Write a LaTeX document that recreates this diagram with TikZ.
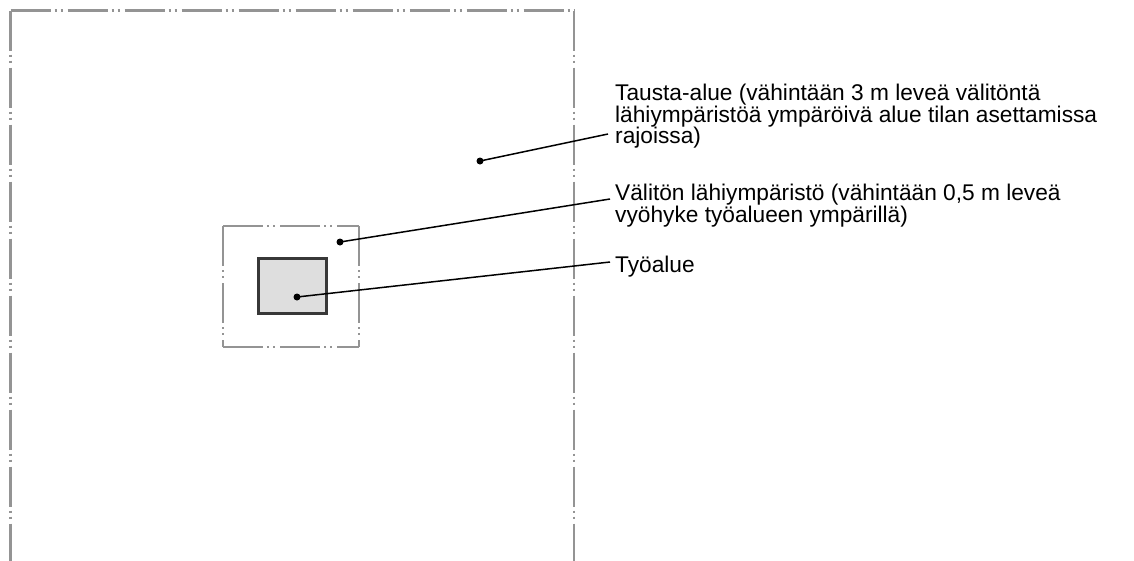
\documentclass[tikz,border=0pt]{standalone}
\usepackage{fontspec}
\setmainfont{Liberation Sans}
\begin{document}
\begin{tikzpicture}[x=1pt,y=-1pt,
  zone/.style={draw=black!42,line width=2.2pt,
    dash pattern=on 40pt off 4pt on 2pt off 4pt on 2pt off 5pt},
  leader/.style={line width=1.5pt},
  lbl/.style={anchor=north west,inner sep=0pt,align=left,
    font=\fontsize{22.7}{21.6}\selectfont}]
\useasboundingbox (0,0) rectangle (1134,560);
% tausta-alue (alareuna jatkuu kuvan alle)
\foreach \a/\b in {{10.5,10.5}/{574,10.5},{10.5,10.5}/{10.5,562},{574,10.5}/{574,562}}
  \draw[zone] (\a)--(\b);
% valiton lahiymparisto
\foreach \a/\b in {{223,226}/{359,226},{223,226}/{223,347},{359,226}/{359,347},{223,347}/{359,347}}
  \draw[zone] (\a)--(\b);
% tyoalue
\draw[line width=3pt,draw=black!78,fill=black!13] (258,258) rectangle (326,313);
% selitteet
\node[lbl] (tausta) at (615,84) {Tausta-alue (vähintään 3 m leveä välitöntä\\
  lähiympäristöä ympäröivä alue tilan asettamissa\\rajoissa)};
\node[lbl] (valiton) at (615,184) {Välitön lähiympäristö (vähintään 0,5 m leveä\\
  vyöhyke työalueen ympärillä)};
\node[lbl] (tyo) at (615,256) {Työalue};
\coordinate (p1) at (480,161);
\coordinate (p2) at (340,242);
\coordinate (p3) at (297,297);
\coordinate (e1) at (608,134);
\coordinate (e2) at (610,199);
\coordinate (e3) at (610,262);
\foreach \i in {1,2,3}{
  \fill (p\i) circle (3.5pt);
  \draw[leader] (p\i)--(e\i);
}
\end{tikzpicture}
\end{document}
